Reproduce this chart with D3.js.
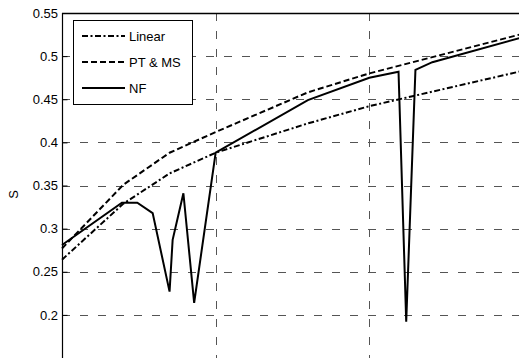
<!DOCTYPE html>
<html>
<head>
<meta charset="utf-8">
<script src="https://cdn.jsdelivr.net/npm/d3@7"></script>
<style>
  html, body { margin: 0; padding: 0; background: #fff; overflow: hidden; }
  svg { display: block; font-family: "Liberation Sans", Arial, sans-serif; }
</style>
</head>
<body>
<svg id="chart" width="519" height="358"></svg>
<script>
// ---- data ----
const xNF  = [0, 0.39, 0.49, 0.59, 0.70, 0.72, 0.79, 0.86, 1.0, 1.6, 2.0, 2.19, 2.24, 2.30, 2.41, 3.0];
const yNF  = [0.281, 0.330, 0.330, 0.318, 0.227, 0.287, 0.341, 0.214, 0.388, 0.449, 0.475, 0.482, 0.192, 0.484, 0.493, 0.522];
const xPT  = [0, 0.40, 0.70, 1.0, 1.6, 2.0, 3.0];
const yPT  = [0.277, 0.351, 0.388, 0.412, 0.458, 0.480, 0.526];
const xLin = [0, 0.40, 0.70, 1.0, 1.6, 2.0, 3.0];
const yLin = [0.264, 0.329, 0.364, 0.388, 0.422, 0.442, 0.483];
const yTicks = [0.2, 0.25, 0.3, 0.35, 0.4, 0.45, 0.5, 0.55];
const xTicks = [1, 2, 3];
const seriesNames = ["Linear", "PT & MS", "NF"];
const yLabel = "S";

// ---- layout ----
const svg = d3.select("#chart");
const pL = 62, pT = 13, pR = 523, pB = 358;
const x = d3.scaleLinear().domain([0, 3]).range([pL, pR]);
const y = d3.scaleLinear().domain([0.15, 0.55]).range([pB, pT]);

// grid
const grid = svg.append("g");
grid.selectAll("line.hg").data(yTicks.filter(d => d < 0.55)).enter().append("line")
  .attr("x1", pL).attr("x2", pR)
  .attr("y1", d => Math.round(y(d)) + 0.5).attr("y2", d => Math.round(y(d)) + 0.5)
  .attr("stroke", "#555").attr("stroke-width", 1).attr("stroke-dasharray", "8,10");
grid.selectAll("line.vg").data(xTicks).enter().append("line")
  .attr("x1", d => Math.round(x(d)) + 0.5).attr("x2", d => Math.round(x(d)) + 0.5)
  .attr("y1", pT).attr("y2", pB)
  .attr("stroke", "#555").attr("stroke-width", 1).attr("stroke-dasharray", "8,10");

// axes
const yAxis = d3.axisLeft(y).tickValues(yTicks).tickSize(-5).tickPadding(4.5)
  .tickFormat(d => String(+d.toFixed(2)));
const gy = svg.append("g").attr("transform", `translate(${pL + 0.5},0)`).call(yAxis);
gy.select(".domain").remove();
gy.selectAll("text").attr("font-size", 13).attr("fill", "#000")
  .attr("font-family", "Liberation Sans, Arial, sans-serif");
gy.selectAll("line").attr("stroke", "#000");
svg.append("line").attr("x1", pL + 0.5).attr("x2", pL + 0.5).attr("y1", pT).attr("y2", pB)
  .attr("stroke", "#000").attr("stroke-width", 1.2);
svg.append("line").attr("x1", pL).attr("x2", pR).attr("y1", pT + 0.5).attr("y2", pT + 0.5)
  .attr("stroke", "#000").attr("stroke-width", 1.5);

// y label
svg.append("text").attr("transform", `translate(18,${(pT + pB) / 2 + 9}) rotate(-90)`)
  .attr("text-anchor", "middle").attr("font-size", 13).text(yLabel);

// series
const line = d3.line().x(d => x(d[0])).y(d => y(d[1]));
const styles = [
  { xs: xLin, ys: yLin, dash: "6,2.5,2,2.5" },
  { xs: xPT, ys: yPT, dash: "6,3" },
  { xs: xNF, ys: yNF, dash: null }
];
styles.forEach(s => {
  svg.append("path").datum(s.xs.map((v, i) => [v, s.ys[i]]))
    .attr("d", line).attr("fill", "none").attr("stroke", "#000").attr("stroke-width", 2)
    .attr("stroke-linejoin", "miter")
    .attr("stroke-dasharray", s.dash);
});

// legend
const lg = svg.append("g");
lg.append("rect").attr("x", 73.5).attr("y", 20.5).attr("width", 119).attr("height", 84)
  .attr("fill", "#fff").attr("stroke", "#000").attr("stroke-width", 1);
seriesNames.forEach((n, i) => {
  const yy = 36 + i * 26;
  lg.append("line").attr("x1", 82).attr("x2", 125).attr("y1", yy).attr("y2", yy)
    .attr("stroke", "#000").attr("stroke-width", 2).attr("stroke-dasharray", styles[i].dash);
  lg.append("text").attr("x", 129).attr("y", yy + 5).attr("font-size", 13).text(n);
});
</script>
</body>
</html>
